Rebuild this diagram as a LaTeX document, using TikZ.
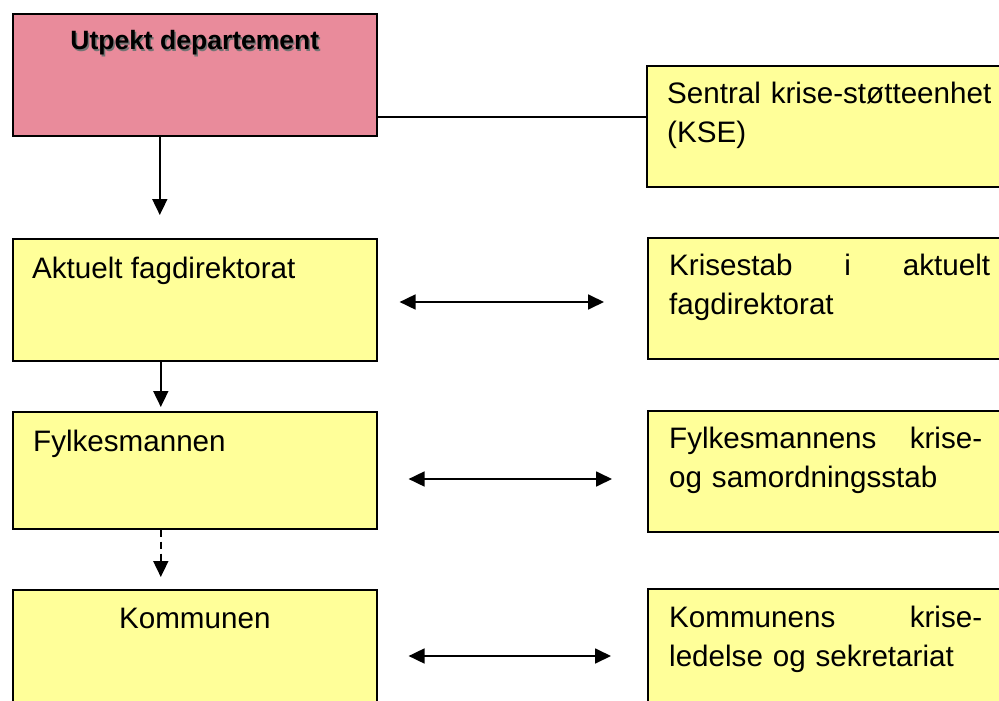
\documentclass[tikz,border=0pt]{standalone}
\usepackage{fontspec}
\setmainfont{Liberation Sans}
\usetikzlibrary{arrows.meta,positioning}

\definecolor{deptpink}{RGB}{233,139,155}
\definecolor{boxyellow}{RGB}{255,255,153}
\newcommand{\spreadline}[2][\linewidth]{\makebox[#1][l]{#2}}

\tikzset{
	box/.style = {draw, line width=1.6pt, anchor=north west, inner sep=0pt,
		minimum width=364pt, minimum height=122pt},
	stab/.style = {box, fill=boxyellow, minimum width=372pt, minimum height=121pt},
	lbl/.style = {anchor=base west, inner sep=0pt, font=\fontsize{29.6}{39}\selectfont},
	stablbl/.style = {lbl, text width=340pt, align=left},
	tip/.tip = {Triangle[length=16pt, width=15pt]},
	down/.style = {line width=1.8pt, -tip},
	both/.style = {line width=1.8pt, tip-tip},
}

\begin{document}
\begin{tikzpicture}[x = 1pt, y = -1pt]
	\useasboundingbox (0,0) rectangle (999,701);
	\clip (0,0) rectangle (999,701);

	% left column
	\node[box, fill=deptpink] (dep) at (12,13) {};
	\node[box, fill=boxyellow] (fag) at (12,238) {};
	\node[box, fill=boxyellow, minimum height=117pt] (fylk) at (12,411) {};
	\node[box, fill=boxyellow] (komm) at (12,589) {};

	% right column
	\node[stab] (kse) at (646,65) {};
	\node[stab] (kstab) at (647,237) {};
	\node[stab] (fstab) at (647,410) {};
	\node[stab] (kkstab) at (647,588) {};

	% texts
	\node[lbl, anchor=base, text=black!55, font=\fontsize{26.5}{30}\selectfont\bfseries]
		(depshadow) at ([shift={(1.5,1.5)}]dep.north |- 0,50) {Utpekt departement};
	\node[lbl, anchor=base, font=\fontsize{26.5}{30}\selectfont\bfseries]
		(deptxt) at (dep.north |- 0,50) {Utpekt departement};
	\node[lbl] (fagtxt) at ([shift={(20,40)}]fag.north west) {Aktuelt fagdirektorat};
	\node[lbl] (fylktxt) at ([shift={(21,40)}]fylk.north west) {Fylkesmannen};
	\node[lbl, anchor=base] (kommtxt) at ([shift={(0,39)}]komm.north) {Kommunen};

	\node[stablbl] (ksetxt) at ([shift={(21,38)}]kse.north west)
		{Sentral krise-støtteenhet\\(KSE)};
	\node[stablbl] (kstabtxt) at ([shift={(22,38)}]kstab.north west)
		{\spreadline[321pt]{Krisestab\hfill i\hfill aktuelt}\\fagdirektorat};
	\node[stablbl] (fstabtxt) at ([shift={(22,38)}]fstab.north west)
		{\spreadline[313pt]{Fylkesmannens\hfill krise-}\\og samordningsstab};
	\node[stablbl] (kkstabtxt) at ([shift={(22,39)}]kkstab.north west)
		{\spreadline[313pt]{Kommunens\hfill krise-}\\ledelse og sekretariat};

	% connectors
	\draw[line width=1.2pt] (dep.east |- 0,117) -- (kse.west |- 0,117);
	\draw[down] ([xshift=-35pt]dep.south) -- ([xshift=-35pt, yshift=23pt]fag.north);
	\draw[down] ([xshift=-34pt]fag.south) -- ([xshift=-34pt, yshift=4pt]fylk.north);
	\draw[down, dash pattern=on 7pt off 5pt] ([xshift=-34pt]fylk.south) -- ([xshift=-34pt, yshift=12pt]komm.north);

	\draw[both, shorten <=22pt, shorten >=43pt] (fag.east |- 0,302) -- (kstab.west |- 0,302);
	\draw[both, shorten <=31pt, shorten >=35pt] (fylk.east |- 0,479) -- (fstab.west |- 0,479);
	\draw[both, shorten <=31pt, shorten >=36pt] (komm.east |- 0,656) -- (kkstab.west |- 0,656);
\end{tikzpicture}
\end{document}
